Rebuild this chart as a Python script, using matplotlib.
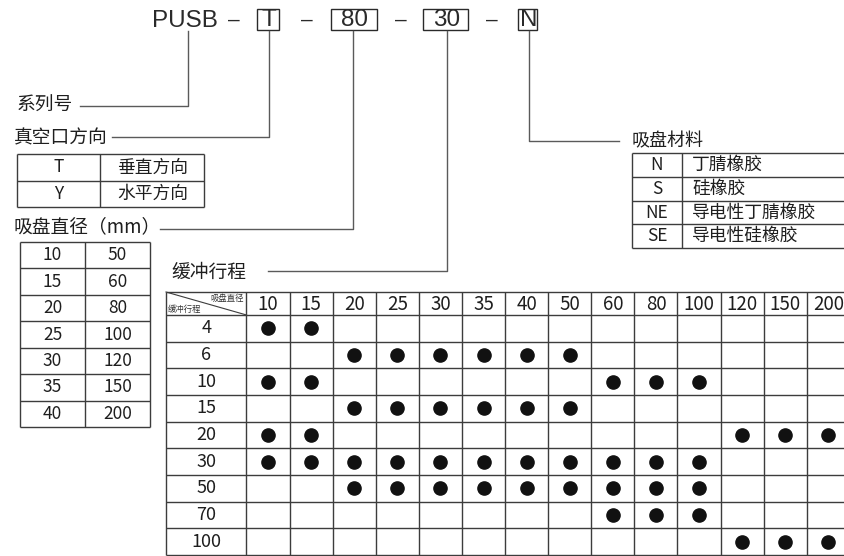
import matplotlib.pyplot as plt
from matplotlib.patches import Rectangle

plt.rcParams['font.family'] = ['Noto Sans CJK SC', 'DejaVu Sans']

# ---- data ----
code_parts = ['T', '80', '30', 'N']
vacuum_codes = ['T', 'Y']
vacuum_names = ['垂直方向', '水平方向']
dia_left = ['10', '15', '20', '25', '30', '35', '40']
dia_right = ['50', '60', '80', '100', '120', '150', '200']
mat_codes = ['N', 'S', 'NE', 'SE']
mat_names = ['丁腈橡胶', '硅橡胶', '导电性丁腈橡胶', '导电性硅橡胶']
diameters = [10, 15, 20, 25, 30, 35, 40, 50, 60, 80, 100, 120, 150, 200]
strokes = [4, 6, 10, 15, 20, 30, 50, 70, 100]
available = {
    4: [10, 15],
    6: [20, 25, 30, 35, 40, 50],
    10: [10, 15, 60, 80, 100],
    15: [20, 25, 30, 35, 40, 50],
    20: [10, 15, 120, 150, 200],
    30: [10, 15, 20, 25, 30, 35, 40, 50, 60, 80, 100],
    50: [20, 25, 30, 35, 40, 50, 60, 80, 100],
    70: [60, 80, 100],
    100: [120, 150, 200],
}

LC = '#3c3c3c'
TC = '#1e1e1e'
LW = 1.0

fig = plt.figure(figsize=(8.45, 5.56), dpi=100)
ax = fig.add_axes([0, 0, 1, 1])
ax.set_xlim(0, 845)
ax.set_ylim(556, 0)
ax.axis('off')


def hline(y, x0, x1):
    ax.plot([x0, x1], [y, y], color=LC, lw=LW, solid_capstyle='butt')


def vline(x, y0, y1):
    ax.plot([x, x], [y0, y1], color=LC, lw=LW, solid_capstyle='butt')


def grid(xs, ys):
    for y in ys:
        hline(y, xs[0], xs[-1])
    for x in xs:
        vline(x, ys[0], ys[-1])


# ---- model code line ----
top_c = '#2a2a2a'
ax.text(152, 21, 'PUSB', fontsize=17.5, family='Liberation Sans', color=top_c,
        ha='left', va='center')
dashes = [234, 307, 401, 492]
for x in dashes:
    ax.text(x, 20, '–', fontsize=15, family='Liberation Sans', color=top_c,
            ha='center', va='center')
boxes = [(257, 279), (331, 377), (423, 468), (518, 537)]
for (x0, x1), s in zip(boxes, code_parts):
    ax.add_patch(Rectangle((x0, 9), x1 - x0, 21, fill=False, ec=top_c, lw=1.0))
    ax.text((x0 + x1) / 2 + 1, 20.5, s, fontsize=17.5, family='Liberation Sans',
            color=top_c, ha='center', va='center')

# leader lines
lc2 = '#5a5a5a'
ax.plot([188, 188, 80], [31, 106, 106], color=lc2, lw=LW)
ax.plot([269, 269, 112], [31, 137, 137], color=lc2, lw=LW)
ax.plot([353, 353, 160], [31, 229, 229], color=lc2, lw=LW)
ax.plot([447, 447, 268], [31, 271, 271], color=lc2, lw=LW)
ax.plot([529, 529, 619], [31, 141, 141], color=lc2, lw=LW)

# labels
ax.text(17, 105, '系列号', fontsize=13.5, color=TC, ha='left', va='center')
ax.text(14, 138, '真空口方向', fontsize=13.5, color=TC, ha='left', va='center')
ax.text(14, 227, '吸盘直径（mm）', fontsize=13.5, color=TC, ha='left', va='center')
ax.text(171, 272, '缓冲行程', fontsize=13.5, color=TC, ha='left', va='center')
ax.text(632, 141, '吸盘材料', fontsize=13, color=TC, ha='left', va='center')

# ---- vacuum port table ----
vx = [17, 100, 204]
vy = [154, 181, 207]
grid(vx, vy)
for i, (c, n) in enumerate(zip(vacuum_codes, vacuum_names)):
    yc = (vy[i] + vy[i + 1]) / 2
    ax.text((vx[0] + vx[1]) / 2, yc, c, fontsize=12.5, color=TC, ha='center', va='center')
    ax.text((vx[1] + vx[2]) / 2 + 1, yc, n, fontsize=12.8, color=TC, ha='center', va='center')

# ---- diameter table ----
dx = [20, 85, 150]
dh = (427 - 242) / len(dia_left)
dy = [242 + dh * k for k in range(len(dia_left) + 1)]
grid(dx, dy)
for i, (a, b) in enumerate(zip(dia_left, dia_right)):
    yc = (dy[i] + dy[i + 1]) / 2
    ax.text((dx[0] + dx[1]) / 2, yc, a, fontsize=12.5, color=TC, ha='center', va='center')
    ax.text((dx[1] + dx[2]) / 2, yc, b, fontsize=12.5, color=TC, ha='center', va='center')

# ---- material table ----
mx = [632, 682, 847]
my = [153, 177, 201, 224, 248]
grid(mx, my)
for i, (c, n) in enumerate(zip(mat_codes, mat_names)):
    yc = (my[i] + my[i + 1]) / 2
    ax.text(657, yc, c, fontsize=12.5, color=TC, ha='center', va='center')
    ax.text(692, yc, n, fontsize=12.8, color=TC, ha='left', va='center')

# ---- stroke / diameter matrix ----
cw = 43.1
tx = [166, 246.5] + [246.5 + cw * (k + 1) for k in range(len(diameters))]
ty0, ty1 = 292, 315
rh = (555 - ty1) / len(strokes)
ty = [ty0, ty1] + [ty1 + rh * (k + 1) for k in range(len(strokes))]
grid(tx, ty)
ax.plot([tx[0], tx[1]], [ty0, ty1], color=LC, lw=0.8)
ax.text(tx[1] - 3, ty0 + 6, '吸盘直径', fontsize=6, color='#333333', ha='right', va='center')
ax.text(tx[0] + 2, ty1 - 6, '缓冲行程', fontsize=6, color='#333333', ha='left', va='center')

for j, d in enumerate(diameters):
    ax.text((tx[j + 1] + tx[j + 2]) / 2, (ty0 + ty1) / 2 + 0.5, str(d), fontsize=13.5,
            color=TC, ha='center', va='center')

for i, s in enumerate(strokes):
    yc = (ty[i + 1] + ty[i + 2]) / 2
    ax.text((tx[0] + tx[1]) / 2, yc, str(s), fontsize=13, color=TC, ha='center', va='center')
    xs = [(tx[diameters.index(d) + 1] + tx[diameters.index(d) + 2]) / 2 for d in available[s]]
    ax.plot(xs, [yc] * len(xs), 'o', color='#111111', markersize=9.5, ls='none')

fig.savefig('out.png', dpi=100)
